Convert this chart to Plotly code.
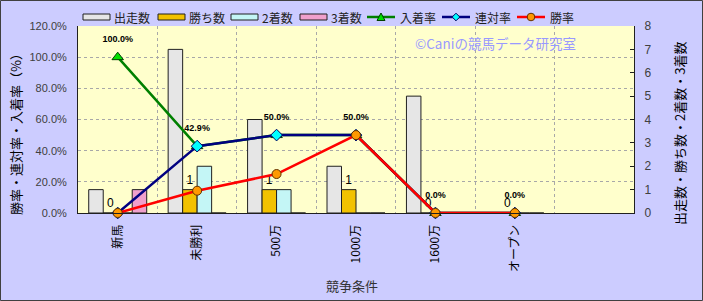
import plotly.graph_objects as go

categories = ['新馬', '未勝利', '500万', '1000万', '1600万', 'オープン', ' ']
starts = [1, 7, 4, 2, 5, 0]        # 出走数
wins = [0, 1, 1, 1, 0, 0]          # 勝ち数
seconds = [0, 2, 1, 0, 0, 0]       # 2着数
thirds = [1, 0, 0, 0, 0, 0]        # 3着数
place_rate = [1.0, 0.429, 0.5, 0.5, 0.0, 0.0]     # 入着率
rentai_rate = [0.0, 0.429, 0.5, 0.5, 0.0, 0.0]    # 連対率
win_rate = [0.0, 0.143, 0.25, 0.5, 0.0, 0.0]      # 勝率

W, H = 703, 301
L, R, T, B = 78, 69, 26, 88
PW, PH = W - L - R, H - T - B
FONT = "Noto Sans CJK JP"
NUMFONT = "Liberation Sans"


def px_x(px):
    return (px - L) / PW


def px_y(py):
    return (T + PH - py) / PH


x = categories[:6]
fig = go.Figure()

bar_line = dict(color='#202020', width=1)
bar_styles = [
    ('出走数', starts, '#E6E6E6'),
    ('勝ち数', wins, '#F2C200'),
    ('2着数', seconds, '#C4F6F6'),
    ('3着数', thirds, '#F0A0CC'),
]
for name, vals, col in bar_styles:
    kw = {}
    if name == '勝ち数':
        kw = dict(text=vals, textposition='outside', cliponaxis=False,
                  textfont=dict(size=12, color='black', family=NUMFONT))
    fig.add_trace(go.Bar(name=name, x=x, y=vals, yaxis='y',
                         marker=dict(color=col, line=bar_line), **kw))

line_styles = [
    ('入着率', place_rate, '#008000', 'triangle-up', 10, '#00E000', '#004000'),
    ('連対率', rentai_rate, '#000080', 'diamond', 9, '#00FFFF', '#000060'),
    ('勝率', win_rate, '#FF0000', 'circle', 9, '#FF9900', '#603000'),
]
for name, vals, lc, sym, sz, mc, mlc in line_styles:
    fig.add_trace(go.Scatter(name=name, x=x, y=vals, yaxis='y2', mode='lines+markers',
                             cliponaxis=False, line=dict(color=lc, width=2.5),
                             marker=dict(symbol=sym, size=sz, color=mc,
                                         line=dict(color=mlc, width=1))))

# 入着率 data labels (invisible larger marker gives the label its offset)
fig.add_trace(go.Scatter(name='入着率ラベル', x=x, y=place_rate, yaxis='y2',
                         mode='markers+text', cliponaxis=False, hoverinfo='skip',
                         marker=dict(size=19, color='rgba(0,0,0,0)',
                                     line=dict(width=0)),
                         texttemplate='<b>%{y:.1%}</b>', textposition='top center',
                         textfont=dict(size=9, color='black', family=NUMFONT)))

fig.update_layout(
    width=W, height=H,
    margin=dict(l=L, r=R, t=T, b=B, pad=0, autoexpand=False),
    paper_bgcolor='#CCCCFF', plot_bgcolor='#FFFFCC',
    font=dict(family=FONT, size=12, color='#222222'),
    barmode='group', bargap=0.27, bargroupgap=0,
    showlegend=False,
    xaxis=dict(type='category', categoryorder='array', categoryarray=categories,
               range=[-0.5, 6.5], tickson='boundaries', ticks='',
               showgrid=True, gridcolor='#A8A8A8', griddash='dot', gridwidth=1,
               showline=True, linecolor='#202020', linewidth=1,
               tickangle=-90, tickfont=dict(size=12, color='black'),
               ticklabelstandoff=6),
    yaxis=dict(side='right', range=[0, 8], dtick=1, showgrid=False, zeroline=False,
               ticks='inside', ticklen=4, tickcolor='#202020',
               showline=True, linecolor='#202020', linewidth=1,
               tickfont=dict(size=12, color='#404040', family=NUMFONT),
               ticklabelstandoff=7),
    yaxis2=dict(overlaying='y', side='left', range=[0, 1.2], dtick=0.2,
                tickformat='.1%', showgrid=True, gridcolor='#A8A8A8', griddash='dot',
                zeroline=False, ticks='', showline=True, linecolor='#202020', linewidth=1,
                tickfont=dict(size=11, color='#404040', family=NUMFONT),
                ticklabelstandoff=8),
)

# ---- legend drawn as shapes + text (wide bar swatches like the original) ----
legend_x = [83, 158, 231, 300, 367, 442, 517]
LY = 17
for (name, _, col), sx in zip(bar_styles, legend_x[:4]):
    fig.add_shape(type='rect', xref='paper', yref='paper',
                  x0=px_x(sx), x1=px_x(sx + 27), y0=px_y(LY + 3), y1=px_y(LY - 3),
                  line=dict(color='#202020', width=1), fillcolor=col)
    fig.add_annotation(text=name, xref='paper', yref='paper', x=px_x(sx + 29), y=px_y(LY),
                       xanchor='left', yanchor='middle', showarrow=False,
                       font=dict(size=12, color='#222222', family=FONT))
for (name, _, lc, sym, sz, mc, mlc), sx in zip(line_styles, legend_x[4:]):
    fig.add_shape(type='line', xref='paper', yref='paper',
                  x0=px_x(sx), x1=px_x(sx + 28), y0=px_y(LY), y1=px_y(LY),
                  line=dict(color=lc, width=2.5))
    cx = sx + 14
    if sym == 'circle':
        fig.add_shape(type='circle', xref='paper', yref='paper',
                      x0=px_x(cx - 3.8), x1=px_x(cx + 3.8), y0=px_y(LY + 3.8), y1=px_y(LY - 3.8),
                      line=dict(color=mlc, width=1), fillcolor=mc)
    elif sym == 'diamond':
        path = 'M {} {} L {} {} L {} {} L {} {} Z'.format(
            px_x(cx), px_y(LY - 3.8), px_x(cx + 3.8), px_y(LY),
            px_x(cx), px_y(LY + 3.8), px_x(cx - 3.8), px_y(LY))
        fig.add_shape(type='path', xref='paper', yref='paper', path=path,
                      line=dict(color=mlc, width=1), fillcolor=mc)
    else:
        path = 'M {} {} L {} {} L {} {} Z'.format(
            px_x(cx), px_y(LY - 4), px_x(cx + 4), px_y(LY + 3.5),
            px_x(cx - 4), px_y(LY + 3.5))
        fig.add_shape(type='path', xref='paper', yref='paper', path=path,
                      line=dict(color=mlc, width=1), fillcolor=mc)
    fig.add_annotation(text=name, xref='paper', yref='paper', x=px_x(sx + 31), y=px_y(LY),
                       xanchor='left', yanchor='middle', showarrow=False,
                       font=dict(size=12, color='#222222', family=FONT))

# axis titles
fig.add_annotation(text='勝率・連対率・入着率（%）', xref='paper', yref='paper',
                   x=px_x(15), y=px_y(131), showarrow=False, textangle=-90,
                   xanchor='center', yanchor='middle',
                   font=dict(size=13, color='black', family=FONT))
fig.add_annotation(text='出走数・勝ち数・2着数・3着数', xref='paper', yref='paper',
                   x=px_x(679), y=px_y(134), showarrow=False, textangle=-90,
                   xanchor='center', yanchor='middle',
                   font=dict(size=13, color='black', family=FONT))
fig.add_annotation(text='競争条件', xref='paper', yref='paper',
                   x=px_x(352), y=px_y(285), showarrow=False,
                   xanchor='center', yanchor='middle',
                   font=dict(size=13, color='#333333', family=FONT))

fig.add_annotation(text='©Caniの競馬データ研究室', xref='paper', yref='paper',
                   x=px_x(495), y=px_y(43), showarrow=False,
                   xanchor='center', yanchor='middle',
                   font=dict(size=13.5, color='#9999FF', family=FONT))

fig.add_shape(type='rect', xref='paper', yref='paper', layer='above',
              x0=px_x(0.5), x1=px_x(W - 0.5),
              y0=px_y(H - 0.5), y1=px_y(0.5),
              line=dict(color='#404040', width=1), fillcolor='rgba(0,0,0,0)')

fig.write_html("out.html")
